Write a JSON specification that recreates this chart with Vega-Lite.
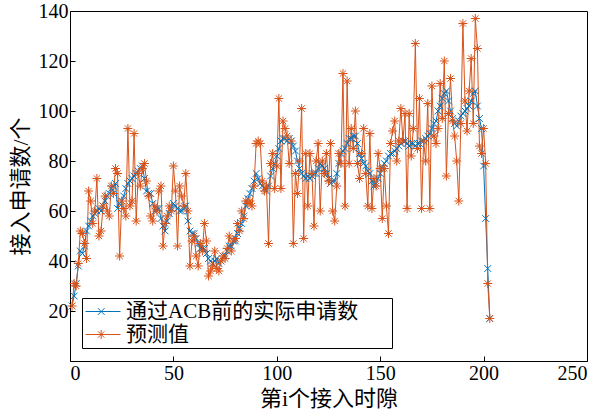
{
 "$schema": "https://vega.github.io/schema/vega-lite/v6.json",
 "width": 517,
 "height": 350,
 "autosize": {"type": "none"},
 "padding": {"left": 70, "top": 11, "right": 17, "bottom": 52},
 "background": "white",
 "config": {
  "view": {"stroke": "#000", "strokeWidth": 1},
  "font": "Liberation Serif, Noto Sans CJK SC",
  "axis": {"grid": false, "domain": false, "tickColor": "#000", "labelColor": "#000", "titleColor": "#000", "labelFont": "Liberation Serif, Noto Sans CJK SC", "titleFont": "Liberation Serif, Noto Sans CJK SC", "labelFontSize": 20, "titleFontSize": 22, "titleFontWeight": "normal", "tickSize": -5, "labelPadding": 7},
  "legend": {"strokeColor": "#000", "fillColor": "#fff", "padding": 3, "labelFont": "Liberation Serif, Noto Sans CJK SC", "labelFontSize": 21, "labelColor": "#000", "labelLimit": 500, "symbolSize": 400, "symbolStrokeWidth": 1, "labelOffset": 20, "rowPadding": 1}
 },
 "data": {"values": [
{"i":1,"a":22,"p":22},{"i":2,"a":26,"p":31},{"i":3,"a":31,"p":30},{"i":4,"a":38,"p":39},{"i":5,"a":44,"p":52},{"i":6,"a":43,"p":51},{"i":7,"a":46,"p":47},{"i":8,"a":52,"p":41},{"i":9,"a":54,"p":68},{"i":10,"a":56,"p":64},
{"i":11,"a":58,"p":55},{"i":12,"a":59,"p":60},{"i":13,"a":60,"p":73},{"i":14,"a":61,"p":50},{"i":15,"a":60,"p":52},{"i":16,"a":62,"p":62},{"i":17,"a":64,"p":66},{"i":18,"a":66,"p":60},{"i":19,"a":67,"p":58},{"i":20,"a":69,"p":70},
{"i":21,"a":70,"p":67},{"i":22,"a":71,"p":77},{"i":23,"a":61,"p":75},{"i":24,"a":63,"p":42},{"i":25,"a":64,"p":64},{"i":26,"a":66,"p":61},{"i":27,"a":69,"p":58},{"i":28,"a":71,"p":93},{"i":29,"a":72,"p":62},{"i":30,"a":73,"p":64},
{"i":31,"a":74,"p":91},{"i":32,"a":75,"p":56},{"i":33,"a":76,"p":75},{"i":34,"a":77,"p":70},{"i":35,"a":78,"p":77},{"i":36,"a":73,"p":79},{"i":37,"a":68,"p":72},{"i":38,"a":67,"p":66},{"i":39,"a":67,"p":58},{"i":40,"a":63,"p":56},
{"i":41,"a":60,"p":62},{"i":42,"a":61,"p":60},{"i":43,"a":61,"p":68},{"i":44,"a":57,"p":70},{"i":45,"a":54,"p":46},{"i":46,"a":52,"p":55},{"i":47,"a":56,"p":58},{"i":48,"a":59,"p":62},{"i":49,"a":61,"p":60},{"i":50,"a":63,"p":78},
{"i":51,"a":62,"p":68},{"i":52,"a":61,"p":46},{"i":53,"a":60,"p":70},{"i":54,"a":60,"p":66},{"i":55,"a":61,"p":62},{"i":56,"a":62,"p":75},{"i":57,"a":56,"p":60},{"i":58,"a":52,"p":38},{"i":59,"a":51,"p":48},{"i":60,"a":51,"p":50},
{"i":61,"a":49,"p":42},{"i":62,"a":47,"p":38},{"i":63,"a":45,"p":47},{"i":64,"a":45,"p":44},{"i":65,"a":45,"p":55},{"i":66,"a":43,"p":48},{"i":67,"a":41,"p":34},{"i":68,"a":40,"p":36},{"i":69,"a":39,"p":38},{"i":70,"a":40,"p":44},
{"i":71,"a":41,"p":37},{"i":72,"a":39,"p":36},{"i":73,"a":40,"p":40},{"i":74,"a":42,"p":42},{"i":75,"a":42,"p":41},{"i":76,"a":44,"p":45},{"i":77,"a":46,"p":50},{"i":78,"a":46,"p":44},{"i":79,"a":48,"p":48},{"i":80,"a":48,"p":49},
{"i":81,"a":51,"p":55},{"i":82,"a":53,"p":52},{"i":83,"a":55,"p":60},{"i":84,"a":58,"p":57},{"i":85,"a":62,"p":64},{"i":86,"a":65,"p":63},{"i":87,"a":67,"p":64},{"i":88,"a":69,"p":62},{"i":89,"a":72,"p":70},{"i":90,"a":75,"p":87},
{"i":91,"a":73,"p":88},{"i":92,"a":71,"p":87},{"i":93,"a":70,"p":72},{"i":94,"a":69,"p":68},{"i":95,"a":68,"p":70},{"i":96,"a":70,"p":47},{"i":97,"a":74,"p":79},{"i":98,"a":77,"p":83},{"i":99,"a":79,"p":69},{"i":100,"a":82,"p":78},
{"i":101,"a":85,"p":105},{"i":102,"a":88,"p":69},{"i":103,"a":89,"p":96},{"i":104,"a":89,"p":93},{"i":105,"a":88,"p":90},{"i":106,"a":89,"p":79},{"i":107,"a":88,"p":88},{"i":108,"a":86,"p":47},{"i":109,"a":84,"p":75},{"i":110,"a":80,"p":67},
{"i":111,"a":77,"p":80},{"i":112,"a":75,"p":101},{"i":113,"a":74,"p":49},{"i":114,"a":73,"p":83},{"i":115,"a":74,"p":62},{"i":116,"a":73,"p":83},{"i":117,"a":74,"p":75},{"i":118,"a":75,"p":54},{"i":119,"a":75,"p":80},{"i":120,"a":77,"p":87},
{"i":121,"a":79,"p":60},{"i":122,"a":78,"p":80},{"i":123,"a":77,"p":75},{"i":124,"a":75,"p":83},{"i":125,"a":73,"p":72},{"i":126,"a":71,"p":87},{"i":127,"a":72,"p":60},{"i":128,"a":72,"p":56},{"i":129,"a":75,"p":70},{"i":130,"a":79,"p":83},
{"i":131,"a":83,"p":79},{"i":132,"a":84,"p":115},{"i":133,"a":85,"p":62},{"i":134,"a":87,"p":112},{"i":135,"a":89,"p":79},{"i":136,"a":89,"p":93},{"i":137,"a":90,"p":85},{"i":138,"a":90,"p":100},{"i":139,"a":87,"p":79},{"i":140,"a":83,"p":73},
{"i":141,"a":81,"p":83},{"i":142,"a":79,"p":93},{"i":143,"a":78,"p":75},{"i":144,"a":76,"p":62},{"i":145,"a":75,"p":91},{"i":146,"a":72,"p":61},{"i":147,"a":70,"p":73},{"i":148,"a":71,"p":70},{"i":149,"a":73,"p":83},{"i":150,"a":75,"p":77},
{"i":151,"a":77,"p":57},{"i":152,"a":79,"p":77},{"i":153,"a":80,"p":62},{"i":154,"a":82,"p":51},{"i":155,"a":83,"p":87},{"i":156,"a":83,"p":92},{"i":157,"a":84,"p":96},{"i":158,"a":85,"p":80},{"i":159,"a":86,"p":88},{"i":160,"a":87,"p":101},
{"i":161,"a":88,"p":88},{"i":162,"a":88,"p":99},{"i":163,"a":87,"p":61},{"i":164,"a":86,"p":99},{"i":165,"a":87,"p":82},{"i":166,"a":87,"p":93},{"i":167,"a":86,"p":127},{"i":168,"a":87,"p":85},{"i":169,"a":87,"p":105},{"i":170,"a":88,"p":61},
{"i":171,"a":88,"p":88},{"i":172,"a":89,"p":80},{"i":173,"a":90,"p":103},{"i":174,"a":91,"p":61},{"i":175,"a":93,"p":110},{"i":176,"a":95,"p":90},{"i":177,"a":96,"p":87},{"i":178,"a":100,"p":93},{"i":179,"a":102,"p":111},{"i":180,"a":105,"p":97},
{"i":181,"a":107,"p":120},{"i":182,"a":108,"p":74},{"i":183,"a":104,"p":99},{"i":184,"a":100,"p":113},{"i":185,"a":97,"p":96},{"i":186,"a":95,"p":90},{"i":187,"a":94,"p":80},{"i":188,"a":96,"p":64},{"i":189,"a":98,"p":95},{"i":190,"a":99,"p":135},
{"i":191,"a":100,"p":104},{"i":192,"a":101,"p":92},{"i":193,"a":102,"p":108},{"i":194,"a":104,"p":121},{"i":195,"a":107,"p":95},{"i":196,"a":108,"p":137},{"i":197,"a":102,"p":125},{"i":198,"a":97,"p":86},{"i":199,"a":93,"p":83},{"i":200,"a":78,"p":93},
{"i":201,"a":57,"p":79},{"i":202,"a":37,"p":31},{"i":203,"a":17,"p":17}
 ]},
 "transform": [{"fold": ["a", "p"], "as": ["s", "v"]}],
 "encoding": {
  "x": {"field": "i", "type": "quantitative", "scale": {"domain": [0, 250], "nice": false}, "axis": {"values": [0, 50, 100, 150, 200, 250], "title": "第i个接入时隙", "titlePadding": 5}},
  "y": {"field": "v", "type": "quantitative", "scale": {"domain": [0, 140], "nice": false, "zero": false}, "axis": {"values": [20, 40, 60, 80, 100, 120, 140], "title": "接入申请数/个", "titlePadding": 6}},
  "color": {"field": "s", "type": "nominal", "scale": {"domain": ["a", "p"], "range": ["#0072BD", "#D95319"]},
   "legend": {"title": null, "orient": "none", "legendX": 12, "legendY": 287, "direction": "vertical", "labelExpr": "datum.value === 'a' ? '通过ACB前的实际申请数\u2800\u2800' : '预测值'"}
  }
 },
 "layer": [
  {"mark": {"type": "line", "strokeWidth": 1}},
  {"transform": [{"filter": {"field": "s", "equal": "a"}}],
   "mark": {"type": "point", "filled": false, "size": 81, "strokeWidth": 1, "opacity": 1, "shape": "M-0.75,-0.75L0.75,0.75M-0.75,0.75L0.75,-0.75"}},
  {"transform": [{"filter": {"field": "s", "equal": "p"}}],
   "mark": {"type": "point", "filled": false, "size": 81, "strokeWidth": 1, "opacity": 1, "shape": "M0,-1V1M-1,0H1M-0.7,-0.7L0.7,0.7M-0.7,0.7L0.7,-0.7"}},
  {"transform": [{"filter": "datum.i < 0"}],
   "mark": {"type": "point", "filled": false, "strokeWidth": 1, "opacity": 1},
   "encoding": {"shape": {"field": "s", "type": "nominal", "scale": {"domain": ["a", "p"], "range": ["M-1,0H2.5M0.23,-0.34L0.91,0.34M0.23,0.34L0.91,-0.34", "M-1,0H2.5M0.57,-0.45V0.45M0.12,0H1.02M0.25,-0.32L0.89,0.32M0.25,0.32L0.89,-0.32"]},
    "legend": {"title": null, "orient": "none", "legendX": 12, "legendY": 287, "direction": "vertical", "labelExpr": "datum.value === 'a' ? '通过ACB前的实际申请数\u2800\u2800' : '预测值'"}}}}
 ]
}
